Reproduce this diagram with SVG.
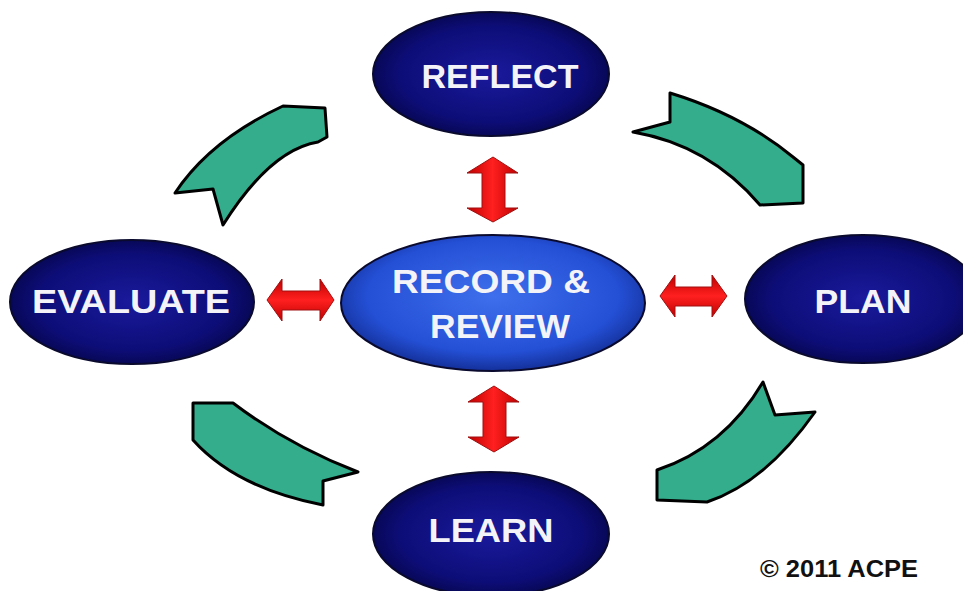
<svg xmlns="http://www.w3.org/2000/svg" width="963" height="591" viewBox="0 0 963 591">
<defs>
<radialGradient id="navy" cx="50%" cy="50%" r="55%">
<stop offset="0" stop-color="#1a1a9c"/>
<stop offset="0.7" stop-color="#0d0d78"/>
<stop offset="1" stop-color="#05054a"/>
</radialGradient>
<radialGradient id="blue" cx="50%" cy="45%" r="55%">
<stop offset="0" stop-color="#3f6fec"/>
<stop offset="0.75" stop-color="#2450d6"/>
<stop offset="1" stop-color="#14309a"/>
</radialGradient>
<linearGradient id="redV" x1="0" y1="0" x2="1" y2="0">
<stop offset="0" stop-color="#c00000"/>
<stop offset="0.5" stop-color="#ff2020"/>
<stop offset="1" stop-color="#c00000"/>
</linearGradient>
<linearGradient id="redH" x1="0" y1="0" x2="0" y2="1">
<stop offset="0" stop-color="#c00000"/>
<stop offset="0.5" stop-color="#ff2020"/>
<stop offset="1" stop-color="#c00000"/>
</linearGradient>
</defs>
<style>
.node { stroke: #0a0a2e; stroke-width: 2; }
.lbl { font-family: "Liberation Sans", Arial, sans-serif; font-weight: bold; fill: #f4f4f8; text-anchor: middle; }
.teal { fill: #33ad8c; stroke: #000; stroke-width: 3; stroke-linejoin: round; }
.red { stroke: #a01010; stroke-width: 1; }
.copy { font-family: "Liberation Sans", Arial, sans-serif; font-weight: bold; fill: #111; font-size: 23px; }
</style>
<rect width="963" height="591" fill="#fff"/>

<g id="connectors">
<path class="teal" d="M283,106 L325,108 L327,137 L318,142 Q270,150 223,225 L213,189 L175,193 Q210,140 283,106 Z"/>
<path class="teal" d="M670,93 L670,122 L633,132 Q709,145 760,205 L803,203 L803,165 L793,157 Q742,115 670,93 Z"/>
<path class="teal" d="M193,403 L233,403 Q290,446 358,472 L323,481 L323,505 Q236,488 193,440 Z"/>
<path class="teal" d="M763,382 L775,415 L815,412 Q765,483 707,502 L657,500 L657,470 Q724,448 763,382 Z"/>

<path class="red" fill="url(#redV)" d="M493,157 L518,173 L505,173 L505,208 L518,208 L493,222 L467,208 L482,208 L482,173 L467,173 Z"/>
<path class="red" fill="url(#redV)" d="M494,386 L519,402 L506,402 L506,437 L519,437 L494,452 L468,437 L483,437 L483,402 L468,402 Z"/>
<path class="red" fill="url(#redH)" d="M267,300 L282,279 L282,291 L320,291 L320,279 L334,300 L320,321 L320,310 L282,310 L282,321 Z"/>
<path class="red" fill="url(#redH)" d="M660,296 L675,275 L675,287 L712,287 L712,275 L727,296 L712,317 L712,306 L675,306 L675,317 Z"/>
</g>

<g id="reflect">
<ellipse class="node" cx="491" cy="74" rx="118" ry="62" fill="url(#navy)"/>
<text class="lbl" x="500" y="88" font-size="34" textLength="157" lengthAdjust="spacingAndGlyphs">REFLECT</text>
</g>
<g id="evaluate">
<ellipse class="node" cx="132" cy="302" rx="122" ry="62" fill="url(#navy)"/>
<text class="lbl" x="131" y="313" font-size="34" textLength="198" lengthAdjust="spacingAndGlyphs">EVALUATE</text>
</g>
<g id="record-review">
<ellipse class="node" cx="493" cy="303" rx="152" ry="68" fill="url(#blue)"/>
<text class="lbl" x="491" y="293" font-size="33" textLength="198" lengthAdjust="spacingAndGlyphs">RECORD &amp;</text>
<text class="lbl" x="500" y="338" font-size="33" textLength="140" lengthAdjust="spacingAndGlyphs">REVIEW</text>
</g>
<g id="plan">
<ellipse class="node" cx="863" cy="299" rx="118" ry="64" fill="url(#navy)"/>
<text class="lbl" x="863" y="313" font-size="34" textLength="97" lengthAdjust="spacingAndGlyphs">PLAN</text>
</g>
<g id="learn">
<ellipse class="node" cx="491" cy="534" rx="118" ry="62" fill="url(#navy)"/>
<text class="lbl" x="491" y="542" font-size="34" textLength="125" lengthAdjust="spacingAndGlyphs">LEARN</text>
</g>

<text class="copy" x="760" y="577" textLength="158" lengthAdjust="spacingAndGlyphs">© 2011 ACPE</text>
</svg>
